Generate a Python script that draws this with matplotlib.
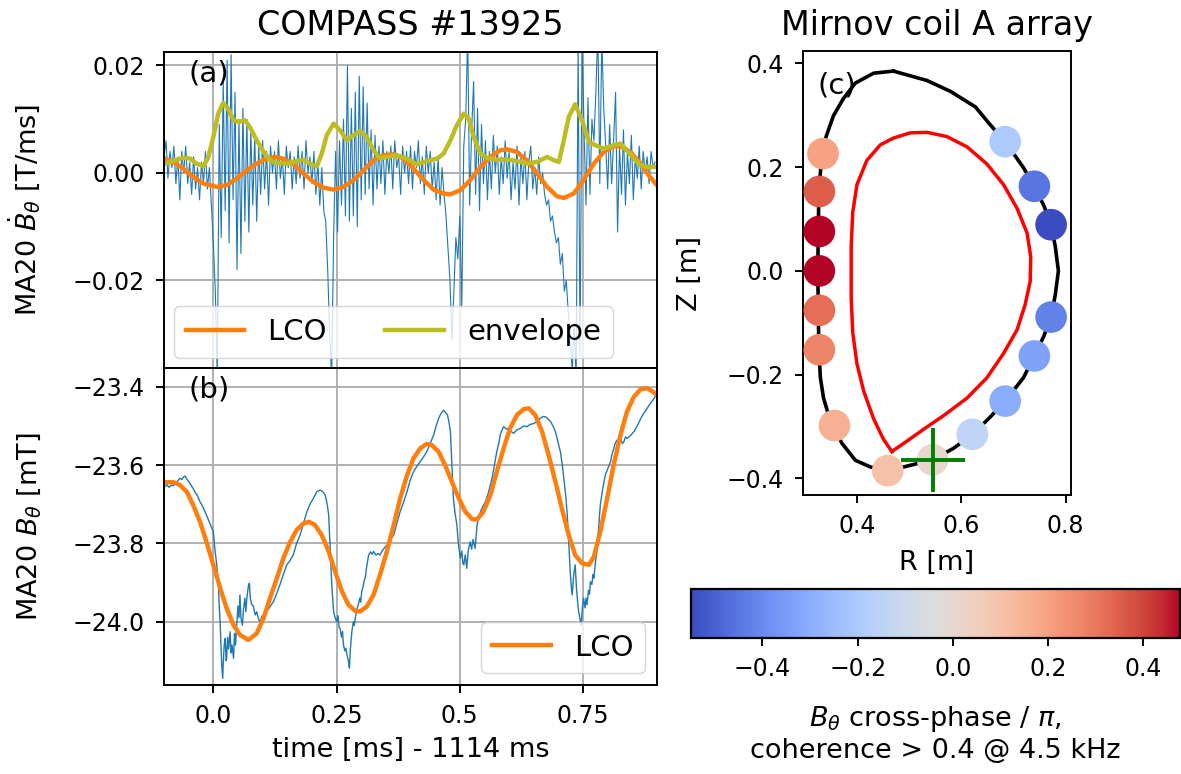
import numpy as np
import matplotlib
matplotlib.use("Agg")
import matplotlib.pyplot as plt
from matplotlib.colors import Normalize

# ---------------- data ----------------
# panel (a): MA20 dB/dt raw signal, 1e-3 T/ms, t from -0.1 ms in 0.004 ms steps
dbdt_t0 = -0.1
dbdt_dt = 0.004
dbdt_milli = [
    3, 6, -1, 4, 1, 5, -2, 3, -5, 4, 0, 5, -2, 2, -4, 3, -3, 1, -5, 2, -2, 4, -3, 1, -6,
    -13, -22, -38, 9, -12, 17, -7, 21, -13, 22, -5, 15, -18, 10, -15, 12, -9, 10, -11, 8, -6, 7, -9, 5, -4,
    6, -3, 4, -6, 5, 0, 4, -3, 6, -1, 3, -4, 5, 1, 4, -3, 3, -2, 5, -1, 4, -3, 6, 0, 3,
    -2, 4, -4, 2, -6, 1, -7, -9, -18, -30, -38, -12, 4, -11, 6, -6, 10, -8, 20, -9, 12, -8, 15, -10, 18,
    -5, 16, -4, 13, -3, 8, -6, 7, -3, 5, -2, 6, -4, 4, 0, 5, -3, 6, 1, 3, -4, 5, 0, 4, -2,
    5, -3, 4, 1, 6, -2, 3, -4, 5, 0, 4, -3, 2, -5, 3, -6, 1, -4, -8, -14, -20, -31, -22, -12, -16,
    -8, -25, 5, 10, 26, -6, 8, 17, -4, 12, -7, 9, -2, 6, -5, 4, -3, 7, 0, 5, -4, 3, -2, 6, -1,
    4, -5, 2, -3, 5, -6, 3, -2, 4, -5, 2, 5, -3, 1, -4, 3, -2, 0, -4, -6, -5, -9, -8, -11, -13,
    -12, -17, -15, -22, -20, -26, -30, -37, -28, -38, 24, -34, 26, 8, -6, 14, -4, 10, 6, 15, 27, -2, 25, 12, 5,
    -3, 9, -2, 6, 15, -11, 5, -4, 8, -6, 4, -2, 7, -5, 3, -1, 5, -3, 4, 0, 3, -2, 4, 1, 2,
]

# panel (a): LCO component of dB/dt (1e-3 T/ms)
lco_a_t = [-0.098, -0.081, -0.061, -0.041, -0.020, 0.007, 0.027, 0.047, 0.068, 0.088,
           0.108, 0.125, 0.142, 0.163, 0.183, 0.203, 0.223, 0.244, 0.264, 0.284,
           0.305, 0.325, 0.345, 0.366, 0.386, 0.406, 0.427, 0.447, 0.467, 0.481,
           0.501, 0.521, 0.542, 0.562, 0.582, 0.596, 0.616, 0.636, 0.657, 0.677,
           0.697, 0.711, 0.731, 0.751, 0.772, 0.792, 0.812, 0.826, 0.846, 0.867,
           0.883, 0.900]
lco_a_v = [2.67, 2.05, 0.81, -0.74, -1.98, -2.60, -2.29, -1.05, 0.50, 1.74,
           2.67, 2.98, 2.67, 1.61, -0.12, -1.67, -2.73, -3.10, -2.60, -1.36,
           0.50, 2.36, 3.29, 3.47, 2.67, 0.81, -1.36, -3.10, -3.84, -3.97,
           -3.22, -1.36, 1.12, 2.98, 4.22, 4.40, 3.91, 2.36, -0.12, -2.60,
           -4.34, -4.65, -3.84, -1.36, 1.74, 3.91, 4.96, 4.96, 3.91, 1.74,
           -0.43, -2.29]

# panel (a): envelope (1e-3 T/ms)
env_t = [-0.098, -0.081, -0.061, -0.047, -0.034, -0.020, -0.010, 0.000, 0.010, 0.020,
         0.030, 0.041, 0.051, 0.064, 0.074, 0.088, 0.102, 0.115, 0.129, 0.149,
         0.169, 0.183, 0.196, 0.210, 0.220, 0.230, 0.244, 0.257, 0.271, 0.284,
         0.298, 0.311, 0.325, 0.338, 0.359, 0.372, 0.393, 0.413, 0.433, 0.454,
         0.467, 0.481, 0.494, 0.508, 0.518, 0.528, 0.542, 0.558, 0.575, 0.596,
         0.616, 0.636, 0.657, 0.677, 0.691, 0.701, 0.711, 0.721, 0.734, 0.748,
         0.762, 0.775, 0.792, 0.812, 0.826, 0.839, 0.853, 0.867, 0.880, 0.900]
env_v = [1.74, 2.23, 2.85, 2.67, 1.74, 1.24, 2.98, 6.70, 11.04, 13.02,
         11.97, 9.80, 9.49, 9.80, 8.56, 6.08, 3.91, 2.36, 1.86, 1.74,
         2.23, 2.48, 1.74, 1.24, 3.60, 7.01, 9.18, 7.94, 6.08, 7.01,
         7.81, 6.70, 4.22, 2.67, 3.10, 3.29, 2.67, 1.61, 2.23, 2.67,
         3.60, 6.08, 8.87, 11.04, 10.11, 6.70, 3.60, 2.67, 2.48, 2.48,
         2.23, 1.74, 2.05, 2.98, 2.36, 2.05, 6.08, 10.42, 12.77, 9.80,
         5.77, 5.15, 4.53, 5.15, 5.46, 4.22, 2.67, 1.43, 1.12, 1.12]

# panel (b): MA20 B_theta raw (mT)
bt_t = [-0.098, -0.094, -0.090, -0.085, -0.081, -0.076, -0.072, -0.068, -0.064, -0.060,
        -0.057, -0.054, -0.050, -0.046, -0.041, -0.036, -0.032, -0.027, -0.022, -0.018,
        -0.014, -0.010, -0.006, -0.003, 0.000, 0.003, 0.006, 0.010, 0.012, 0.014,
        0.016, 0.017, 0.019, 0.020, 0.022, 0.024, 0.026, 0.027, 0.029, 0.031,
        0.034, 0.036, 0.038, 0.041, 0.043, 0.045, 0.047, 0.050, 0.052, 0.054,
        0.056, 0.059, 0.061, 0.064, 0.066, 0.068, 0.071, 0.073, 0.075, 0.078,
        0.081, 0.085, 0.088, 0.092, 0.095, 0.099, 0.103, 0.108, 0.112, 0.117,
        0.122, 0.128, 0.135, 0.142, 0.149, 0.155, 0.162, 0.169, 0.176, 0.183,
        0.190, 0.196, 0.203, 0.210, 0.217, 0.222, 0.227, 0.231, 0.234, 0.237,
        0.240, 0.242, 0.244, 0.247, 0.250, 0.253, 0.255, 0.257, 0.260, 0.262,
        0.264, 0.267, 0.269, 0.271, 0.274, 0.276, 0.278, 0.281, 0.284, 0.286,
        0.288, 0.291, 0.294, 0.297, 0.299, 0.301, 0.304, 0.306, 0.308, 0.311,
        0.313, 0.315, 0.319, 0.322, 0.325, 0.330, 0.334, 0.338, 0.343, 0.347,
        0.352, 0.359, 0.366, 0.372, 0.379, 0.386, 0.393, 0.399, 0.406, 0.413,
        0.420, 0.427, 0.433, 0.440, 0.447, 0.452, 0.457, 0.462, 0.467, 0.471,
        0.475, 0.478, 0.481, 0.484, 0.487, 0.490, 0.494, 0.497, 0.501, 0.504,
        0.506, 0.508, 0.511, 0.514, 0.517, 0.521, 0.524, 0.527, 0.531, 0.535,
        0.538, 0.542, 0.547, 0.552, 0.557, 0.562, 0.566, 0.569, 0.572, 0.575,
        0.579, 0.582, 0.585, 0.589, 0.594, 0.599, 0.604, 0.609, 0.616, 0.623,
        0.630, 0.636, 0.643, 0.650, 0.657, 0.663, 0.669, 0.674, 0.679, 0.684,
        0.689, 0.694, 0.699, 0.704, 0.708, 0.711, 0.715, 0.718, 0.721, 0.724,
        0.726, 0.728, 0.731, 0.734, 0.737, 0.739, 0.741, 0.744, 0.746, 0.749,
        0.751, 0.754, 0.756, 0.758, 0.761, 0.763, 0.765, 0.768, 0.770, 0.772,
        0.775, 0.778, 0.781, 0.785, 0.790, 0.795, 0.800, 0.806, 0.809, 0.812,
        0.815, 0.819, 0.823, 0.826, 0.830, 0.833, 0.836, 0.839, 0.846, 0.853,
        0.860, 0.867, 0.873, 0.880, 0.887, 0.894, 0.900]
bt_v = [-23.655, -23.650, -23.657, -23.651, -23.653, -23.645, -23.640, -23.634, -23.637, -23.630,
        -23.628, -23.636, -23.642, -23.650, -23.660, -23.672, -23.679, -23.694, -23.705, -23.716,
        -23.728, -23.740, -23.752, -23.762, -23.770, -23.813, -23.845, -23.898, -23.960, -24.009,
        -24.080, -24.111, -24.145, -24.110, -24.060, -24.043, -24.100, -24.094, -24.040, -24.070,
        -24.026, -24.080, -24.060, -24.094, -24.030, -24.060, -24.017, -23.960, -23.990, -23.932,
        -23.990, -24.009, -23.970, -23.940, -23.975, -23.940, -23.910, -23.902, -23.940, -23.957,
        -23.960, -23.983, -23.975, -23.995, -24.000, -23.985, -23.990, -23.974, -23.968, -23.958,
        -23.949, -23.930, -23.906, -23.880, -23.855, -23.845, -23.830, -23.800, -23.779, -23.748,
        -23.719, -23.700, -23.685, -23.668, -23.664, -23.668, -23.677, -23.700, -23.728, -23.813,
        -23.898, -23.940, -23.974, -23.990, -24.000, -23.985, -24.015, -24.017, -24.040, -24.025,
        -24.060, -24.075, -24.068, -24.085, -24.100, -24.119, -24.070, -24.026, -24.000, -24.010,
        -23.991, -23.970, -23.957, -23.940, -23.950, -23.923, -23.910, -23.895, -23.889, -23.860,
        -23.845, -23.830, -23.822, -23.828, -23.821, -23.830, -23.826, -23.830, -23.818, -23.812,
        -23.804, -23.790, -23.779, -23.750, -23.719, -23.695, -23.668, -23.640, -23.617, -23.603,
        -23.591, -23.578, -23.566, -23.545, -23.523, -23.500, -23.481, -23.468, -23.460, -23.466,
        -23.472, -23.490, -23.515, -23.600, -23.685, -23.720, -23.753, -23.800, -23.838, -23.820,
        -23.850, -23.855, -23.830, -23.864, -23.820, -23.796, -23.815, -23.790, -23.813, -23.753,
        -23.735, -23.719, -23.705, -23.694, -23.675, -23.651, -23.630, -23.609, -23.588, -23.566,
        -23.545, -23.523, -23.512, -23.502, -23.508, -23.506, -23.514, -23.519, -23.510, -23.506,
        -23.500, -23.502, -23.496, -23.494, -23.488, -23.481, -23.476, -23.477, -23.482, -23.489,
        -23.500, -23.515, -23.540, -23.566, -23.600, -23.634, -23.680, -23.728, -23.800, -23.872,
        -23.910, -23.932, -23.880, -23.855, -23.920, -23.950, -23.974, -23.995, -24.009, -23.960,
        -23.940, -23.965, -23.940, -23.957, -23.920, -23.930, -23.898, -23.905, -23.880, -23.889,
        -23.850, -23.821, -23.770, -23.702, -23.660, -23.626, -23.610, -23.591, -23.570, -23.560,
        -23.545, -23.536, -23.545, -23.532, -23.545, -23.540, -23.528, -23.532, -23.525, -23.515,
        -23.500, -23.481, -23.468, -23.455, -23.442, -23.430, -23.417]

# panel (b): LCO component (mT)
lco_b_t = [-0.098, -0.081, -0.068, -0.054, -0.041, -0.027, -0.014, 0.000, 0.014, 0.027,
           0.041, 0.054, 0.071, 0.088, 0.102, 0.115, 0.129, 0.142, 0.156, 0.169,
           0.183, 0.194, 0.206, 0.220, 0.234, 0.247, 0.261, 0.274, 0.288, 0.298,
           0.311, 0.325, 0.338, 0.352, 0.366, 0.379, 0.393, 0.406, 0.420, 0.433,
           0.443, 0.457, 0.470, 0.484, 0.498, 0.511, 0.525, 0.535, 0.548, 0.562,
           0.575, 0.589, 0.602, 0.616, 0.630, 0.640, 0.653, 0.667, 0.680, 0.694,
           0.707, 0.721, 0.734, 0.748, 0.762, 0.772, 0.785, 0.799, 0.812, 0.826,
           0.839, 0.853, 0.867, 0.880, 0.890, 0.900]
lco_b_v = [-23.644, -23.644, -23.651, -23.668, -23.702, -23.745, -23.796, -23.855, -23.915, -23.966,
           -24.009, -24.034, -24.047, -24.030, -23.991, -23.940, -23.889, -23.838, -23.796, -23.766,
           -23.749, -23.745, -23.753, -23.779, -23.821, -23.872, -23.923, -23.957, -23.973, -23.974,
           -23.962, -23.932, -23.881, -23.821, -23.753, -23.685, -23.626, -23.583, -23.557, -23.546,
           -23.549, -23.566, -23.600, -23.643, -23.685, -23.719, -23.738, -23.739, -23.719, -23.677,
           -23.617, -23.557, -23.506, -23.472, -23.457, -23.455, -23.472, -23.515, -23.574, -23.643,
           -23.711, -23.779, -23.830, -23.851, -23.855, -23.834, -23.770, -23.685, -23.600, -23.523,
           -23.464, -23.426, -23.406, -23.404, -23.411, -23.421]

# panel (c): vessel wall contour (m)
wall_R = [0.470, 0.432, 0.397, 0.374, 0.355, 0.341, 0.333, 0.327, 0.325, 0.327,
          0.330, 0.336, 0.346, 0.371, 0.397, 0.426, 0.459, 0.489, 0.545, 0.585,
          0.622, 0.655, 0.684, 0.719, 0.740, 0.758, 0.772, 0.780, 0.786, 0.780,
          0.772, 0.758, 0.740, 0.719, 0.684, 0.655, 0.627, 0.579, 0.534, 0.470]
wall_Z = [0.385, 0.381, 0.362, 0.332, 0.299, 0.259, 0.226, 0.153, 0.000, -0.152,
          -0.206, -0.245, -0.279, -0.332, -0.365, -0.378, -0.385, -0.378, -0.364, -0.342,
          -0.315, -0.282, -0.251, -0.206, -0.164, -0.126, -0.089, -0.046, 0.000, 0.047,
          0.089, 0.126, 0.163, 0.199, 0.249, 0.282, 0.316, 0.346, 0.367, 0.385]

# panel (c): plasma boundary (separatrix) contour (m)
sep_R = [0.467, 0.451, 0.432, 0.413, 0.400, 0.392, 0.389, 0.389, 0.392, 0.400,
         0.419, 0.445, 0.470, 0.502, 0.534, 0.572, 0.611, 0.649, 0.681, 0.707,
         0.726, 0.733, 0.732, 0.722, 0.707, 0.681, 0.649, 0.611, 0.566, 0.528,
         0.496, 0.467]
sep_Z = [-0.348, -0.325, -0.285, -0.232, -0.179, -0.119, -0.053, 0.047, 0.113, 0.166,
         0.213, 0.243, 0.256, 0.266, 0.267, 0.259, 0.239, 0.206, 0.166, 0.120,
         0.073, 0.027, -0.020, -0.066, -0.113, -0.159, -0.206, -0.245, -0.279, -0.305,
         -0.328, -0.348]

# panel (c): Mirnov coil positions (m) and cross-phase / pi
coil_R = [0.335, 0.328, 0.328, 0.328, 0.328, 0.328, 0.357, 0.459,
          0.545, 0.621, 0.684, 0.740, 0.772, 0.772, 0.740, 0.684]
coil_Z = [0.226, 0.153, 0.076, 0.000, -0.076, -0.152, -0.298, -0.385,
          -0.364, -0.315, -0.251, -0.164, -0.089, 0.089, 0.163, 0.249]
coil_phase = [0.20, 0.35, 0.477, 0.477, 0.32, 0.27, 0.16, 0.10,
              0.01, -0.14, -0.30, -0.33, -0.42, -0.55, -0.45, -0.20]

# reference coil (green cross)
ref_R = [0.545]
ref_Z = [-0.364]

xticks_a = [0.0, 0.25, 0.5, 0.75]
xticklabels_a = ["0.0", "0.25", "0.5", "0.75"]
yticks_a = [-0.02, 0.0, 0.02]
yticks_b = [-24.0, -23.8, -23.6, -23.4]
cbar_ticks = [-0.4, -0.2, 0.0, 0.2, 0.4]

# ---------------- figure ----------------
plt.rcParams['font.family'] = ['DejaVu Sans']
TICK = 17
LAB = 19.5
TIT = 24
LEG = 21
PAD = 8

fig = plt.figure(figsize=(11.81, 7.74), dpi=100)
ax_a = fig.add_axes([0.1389, 0.5245, 0.4174, 0.4083])
ax_b = fig.add_axes([0.1389, 0.1150, 0.4174, 0.4096], sharex=ax_a)
ax_c = fig.add_axes([0.6799, 0.3611, 0.2269, 0.5725])
cax = fig.add_axes([0.5851, 0.1757, 0.4140, 0.0633])

for ax in (ax_a, ax_b, ax_c):
    for sp in ax.spines.values():
        sp.set_linewidth(1.4)
    ax.tick_params(labelsize=TICK, width=1.4, length=6, pad=PAD)

# (a)
n = len(dbdt_milli)
t_a = dbdt_t0 + dbdt_dt * np.arange(n)
ax_a.plot(t_a, np.array(dbdt_milli) * 1e-3, color='C0', lw=0.8)
ax_a.plot(lco_a_t, np.array(lco_a_v) * 1e-3, color='C1', lw=3.2, label='LCO')
ax_a.plot(env_t, np.array(env_v) * 1e-3, color='C8', lw=3.2, label='envelope')
ax_a.set_xlim(-0.1, 0.9)
ax_a.set_ylim(-0.0363, 0.0225)
ax_a.set_yticks(yticks_a)
ax_a.set_yticklabels(["\u22120.02", "0.00", "0.02"])
ax_a.grid(True, color='#b0b0b0', lw=1.4)
ax_a.tick_params(labelbottom=False)
ax_a.set_ylabel(r'MA20 $\dot{B}_\theta$ [T/ms]', fontsize=LAB)
ax_a.yaxis.set_label_coords(-0.245, 0.5)
ax_a.set_title('COMPASS #13925', fontsize=TIT, pad=12)
ax_a.text(0.05, 0.975, '(a)', transform=ax_a.transAxes, fontsize=LEG,
          ha='left', va='top')
ax_a.legend(loc='lower left', ncol=2, fontsize=LEG, handlelength=2.0,
            columnspacing=2.0, borderaxespad=0.35)

# (b)
ax_b.plot(bt_t, bt_v, color='C0', lw=1.0)
ax_b.plot(lco_b_t, lco_b_v, color='C1', lw=3.2, label='LCO')
ax_b.set_ylim(-24.162, -23.352)
ax_b.set_yticks(yticks_b)
ax_b.set_yticklabels(["\u221224.0", "\u221223.8", "\u221223.6", "\u221223.4"])
ax_b.set_xticks(xticks_a)
ax_b.set_xticklabels(xticklabels_a)
ax_b.grid(True, color='#b0b0b0', lw=1.4)
ax_b.set_ylabel(r'MA20 $B_\theta$ [mT]', fontsize=LAB)
ax_b.yaxis.set_label_coords(-0.245, 0.5)
ax_b.set_xlabel('time [ms] - 1114 ms', fontsize=LAB, labelpad=6)
ax_b.text(0.05, 0.975, '(b)', transform=ax_b.transAxes, fontsize=LEG,
          ha='left', va='top')
ax_b.legend(loc='lower right', fontsize=LEG, handlelength=2.0, borderaxespad=0.4)

# (c)
norm = Normalize(vmin=min(coil_phase), vmax=max(coil_phase))
cmap = plt.get_cmap('coolwarm')
ax_c.plot(wall_R, wall_Z, color='black', lw=2.6, zorder=2)
ax_c.plot(sep_R, sep_Z, color='red', lw=2.5, zorder=2)
sc = ax_c.scatter(coil_R, coil_Z, c=coil_phase, cmap=cmap, norm=norm, s=520,
                  edgecolors='none', zorder=3)
ax_c.plot(ref_R, ref_Z, '+', color='green', ms=46, mew=2.8, zorder=4)
ax_c.set_xlim(0.2966, 0.81)
ax_c.set_ylim(-0.431, 0.423)
ax_c.set_xticks([0.4, 0.6, 0.8])
ax_c.set_yticks([-0.4, -0.2, 0.0, 0.2, 0.4])
ax_c.set_yticklabels(["\u22120.4", "\u22120.2", "0.0", "0.2", "0.4"])
ax_c.set_xlabel('R [m]', fontsize=LAB, labelpad=9)
ax_c.set_ylabel('Z [m]', fontsize=LAB, labelpad=17)
ax_c.set_title('Mirnov coil A array', fontsize=TIT, pad=12)
ax_c.text(0.055, 0.955, '(c)', transform=ax_c.transAxes, fontsize=LEG,
          ha='left', va='top')

# colorbar
cb = fig.colorbar(sc, cax=cax, orientation='horizontal', ticks=cbar_ticks)
cb.ax.tick_params(labelsize=TICK, width=1.4, length=6, pad=PAD)
cb.ax.set_xticklabels(["\u22120.4", "\u22120.2", "0.0", "0.2", "0.4"])
cb.outline.set_linewidth(1.6)
cb.set_label('$B_\\theta$ cross-phase / $\\pi$,\ncoherence > 0.4 @ 4.5 kHz',
             fontsize=LAB, labelpad=16)

fig.savefig('out.png', dpi=100)
